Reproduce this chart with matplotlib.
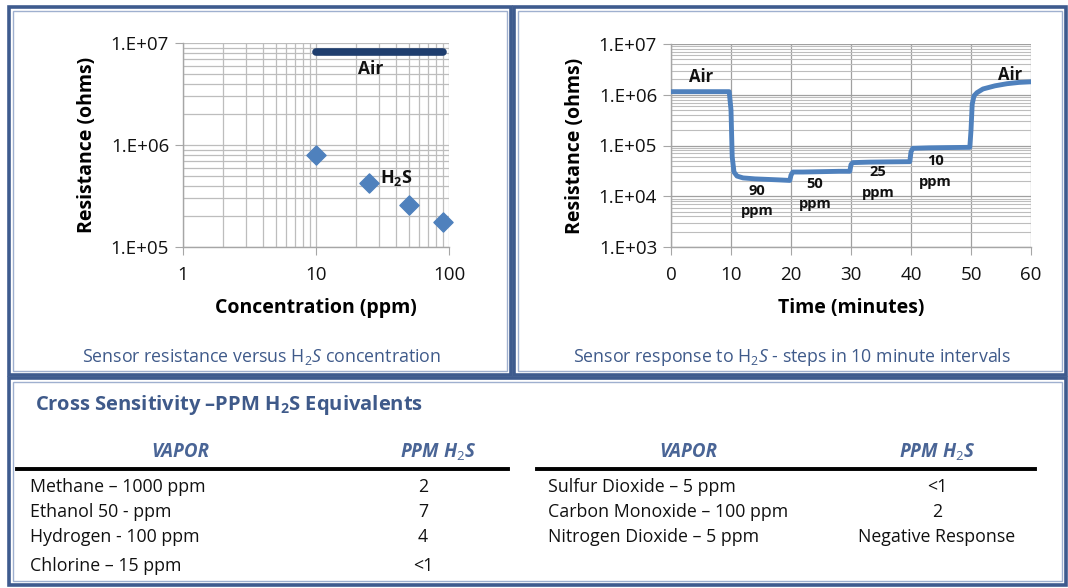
import matplotlib
matplotlib.use("Agg")
import matplotlib.pyplot as plt
from matplotlib.patches import Rectangle
from matplotlib.lines import Line2D
from matplotlib.ticker import LogLocator, FixedLocator, NullFormatter

FONT = 'Open Sans'
plt.rcParams['font.family'] = [FONT, 'DejaVu Sans']
plt.rcParams['mathtext.fontset'] = 'custom'
plt.rcParams['mathtext.rm'] = FONT
plt.rcParams['mathtext.it'] = FONT + ':italic'
plt.rcParams['mathtext.bf'] = FONT + ':bold'

# ---------------- data ----------------
air_conc = [10, 90]
air_res = [8.2e6, 8.2e6]
h2s_conc = [10, 25, 50, 90]
h2s_res = [7.9e5, 4.2e5, 2.6e5, 1.75e5]

time_min = [0, 9.7, 10.0, 10.2, 10.5, 11, 12, 14, 16, 18, 19.8, 20.0, 20.3, 22, 25, 28,
            29.8, 30.0, 30.3, 33, 36, 39.8, 40.0, 40.3, 43, 46, 49.8, 50.0, 50.2, 50.5,
            51, 52, 54, 56, 58, 60]
resp_res = [1.15e6, 1.15e6, 5e5, 6e4, 3e4, 2.5e4, 2.3e4, 2.2e4, 2.15e4, 2.1e4, 2.05e4, 2.6e4,
            3.0e4, 3.0e4, 3.05e4, 3.1e4, 3.1e4, 4.2e4, 4.6e4, 4.7e4, 4.75e4, 4.8e4, 7.5e4,
            8.8e4, 9.0e4, 9.1e4, 9.2e4, 2.0e5, 6.5e5, 9.5e5, 1.1e6, 1.3e6, 1.5e6, 1.65e6,
            1.75e6, 1.8e6]

step_labels = ["Air", "90\nppm", "50\nppm", "25\nppm", "10\nppm", "Air"]
step_x = [5, 14.3, 24, 34.5, 44, 56.5]
step_y = [2.2e6, 8.1e3, 1.1e4, 1.86e4, 3.1e4, 2.4e6]

vapor_left = ["Methane \u2013 1000 ppm", "Ethanol 50 - ppm", "Hydrogen - 100 ppm", "Chlorine \u2013 15 ppm"]
ppm_left = ["2", "7", "4", "<1"]
vapor_right = ["Sulfur Dioxide \u2013 5 ppm", "Carbon Monoxide \u2013 100 ppm", "Nitrogen Dioxide \u2013 5 ppm"]
ppm_right = ["<1", "2", "Negative Response"]

# ---------------- figure ----------------
W, H = 1068, 588
fig = plt.figure(figsize=(W / 100, H / 100), dpi=100)
fig.patch.set_facecolor('white')

def fx(px):
    return px / W

def fy(py):
    return 1 - py / H

DARK = '#3e5b8e'
LIGHT = '#9fb0cf'
CAP = '#3f5a8a'
GRID = '#bdbdbd'

def frame(x0, y0, x1, y1):
    fig.add_artist(Rectangle((fx(x0), fy(y1)), fx(x1) - fx(x0), fy(y0) - fy(y1),
                             transform=fig.transFigure, fill=False, ec=DARK, lw=2.6))
    d = 4
    fig.add_artist(Rectangle((fx(x0 + d), fy(y1 - d)), fx(x1 - d) - fx(x0 + d), fy(y0 + d) - fy(y1 - d),
                             transform=fig.transFigure, fill=False, ec=LIGHT, lw=1.0))

frame(9, 7, 511, 375)
frame(514, 7, 1066, 375)
frame(9, 378, 1066, 585)

TICK = 13.5
AXL = 14

def style_axes(ax):
    for s in ['top', 'right']:
        ax.spines[s].set_visible(False)
    for s in ['left', 'bottom']:
        ax.spines[s].set_color('#a6a6a6')
        ax.spines[s].set_linewidth(1.0)
    ax.tick_params(axis='both', which='major', direction='out', length=6, color='#a6a6a6',
                   labelsize=TICK, labelcolor='#111111', pad=4)
    ax.tick_params(axis='both', which='minor', length=0)
    ax.set_axisbelow(True)

# ---- left chart ----
ax1 = fig.add_axes([fx(183), fy(247), fx(449) - fx(183), fy(43) - fy(247)])
ax1.set_xscale('log')
ax1.set_yscale('log')
ax1.set_xlim(1, 100)
ax1.set_ylim(1e5, 1e7)
style_axes(ax1)
ax1.xaxis.set_major_locator(FixedLocator([1, 10, 100]))
ax1.set_xticklabels(['1', '10', '100'])
ax1.xaxis.set_minor_locator(LogLocator(base=10, subs=range(2, 10)))
ax1.xaxis.set_minor_formatter(NullFormatter())
ax1.yaxis.set_major_locator(FixedLocator([1e5, 1e6, 1e7]))
ax1.set_yticklabels(['1.E+05', '1.E+06', '1.E+07'])
ax1.yaxis.set_minor_locator(LogLocator(base=10, subs=range(2, 10)))
ax1.yaxis.set_minor_formatter(NullFormatter())
ax1.grid(True, which='both', color=GRID, lw=0.9)
ax1.plot(air_conc, air_res, color='#1f3e6e', lw=5.5, solid_capstyle='round', zorder=3)
ax1.scatter(h2s_conc, h2s_res, marker='D', s=95, color='#4f81bd', zorder=4, clip_on=False)
ax1.text(25.9, 5.5e6, 'Air', fontsize=12.5, fontweight='bold', color='#111111', ha='center', va='center')
ax1.text(40, 4.8e5, r'H$_\mathbf{2}$S', fontsize=13, fontweight='bold', color='#111111', ha='center', va='center')
ax1.tick_params(axis='x', pad=8)
ax1.set_xlabel('Concentration (ppm)', fontsize=AXL, fontweight='bold', labelpad=10)
ax1.set_ylabel('Resistance (ohms)', fontsize=AXL, fontweight='bold', labelpad=10)

# ---- right chart ----
ax2 = fig.add_axes([fx(671), fy(247), fx(1031) - fx(671), fy(44) - fy(247)])
ax2.set_yscale('log')
ax2.set_xlim(0, 60)
ax2.set_ylim(1e3, 1e7)
style_axes(ax2)
ax2.xaxis.set_major_locator(FixedLocator([0, 10, 20, 30, 40, 50, 60]))
ax2.yaxis.set_major_locator(FixedLocator([1e3, 1e4, 1e5, 1e6, 1e7]))
ax2.set_yticklabels(['1.E+03', '1.E+04', '1.E+05', '1.E+06', '1.E+07'])
ax2.yaxis.set_minor_locator(LogLocator(base=10, subs=range(2, 10)))
ax2.yaxis.set_minor_formatter(NullFormatter())
ax2.grid(True, which='major', axis='both', color='#a0a0a0', lw=0.9)
ax2.grid(True, which='minor', axis='y', color=GRID, lw=0.8)
ax2.plot(time_min, resp_res, color='#4f81bd', lw=3.5, solid_joinstyle='round', zorder=3)
for lab, x, y in zip(step_labels, step_x, step_y):
    ax2.text(x, y, lab, fontsize=12 if lab == 'Air' else 10.5, fontweight='bold',
             color='#111111', ha='center', va='center', linespacing=1.6)
ax2.tick_params(axis='x', pad=8)
ax2.set_xlabel('Time (minutes)', fontsize=AXL, fontweight='bold', labelpad=10)
ax2.set_ylabel('Resistance (ohms)', fontsize=AXL, fontweight='bold', labelpad=10)

# ---- captions ----
fig.text(fx(262), fy(357), r'Sensor resistance versus H$_2$$\mathit{S}$ concentration',
         fontsize=12.8, color=CAP, ha='center', va='center')
fig.text(fx(792), fy(357), r'Sensor response to H$_2$$\mathit{S}$ - steps in 10 minute intervals',
         fontsize=12.8, color=CAP, ha='center', va='center')

# ---- table ----
fig.text(fx(35), fy(405), 'Cross Sensitivity \u2013PPM H$_\\mathbf{2}$S Equivalents',
         fontsize=14.5, fontweight='bold', color=CAP, ha='left', va='center')

HDR = '#4a6596'
def header(xc, txt):
    fig.text(fx(xc), fy(452), txt, fontsize=13.5, fontweight='bold', style='italic',
             color=HDR, ha='center', va='center')

header(180, 'VAPOR')
header(438, r'PPM H$_\mathbf{\mathit{2}}$S')
header(688, 'VAPOR')
header(937, r'PPM H$_\mathbf{\mathit{2}}$S')

fig.add_artist(Line2D([fx(17), fx(508)], [fy(469), fy(469)], transform=fig.transFigure, color='black', lw=2.8))
fig.add_artist(Line2D([fx(537), fx(1035)], [fy(469), fy(469)], transform=fig.transFigure, color='black', lw=2.8))

ROW = 12.8
rows_y = [487, 512, 537, 566]
for i, (v, p) in enumerate(zip(vapor_left, ppm_left)):
    fig.text(fx(30), fy(rows_y[i]), v, fontsize=ROW, color='#111111', ha='left', va='center')
    fig.text(fx(423), fy(rows_y[i]), p, fontsize=ROW, color='#111111', ha='center', va='center')
for i, (v, p) in enumerate(zip(vapor_right, ppm_right)):
    fig.text(fx(548), fy(rows_y[i]), v, fontsize=ROW, color='#111111', ha='left', va='center')
    fig.text(fx(937), fy(rows_y[i]), p, fontsize=ROW, color='#111111', ha='center', va='center')

fig.savefig('out.png', dpi=100)
